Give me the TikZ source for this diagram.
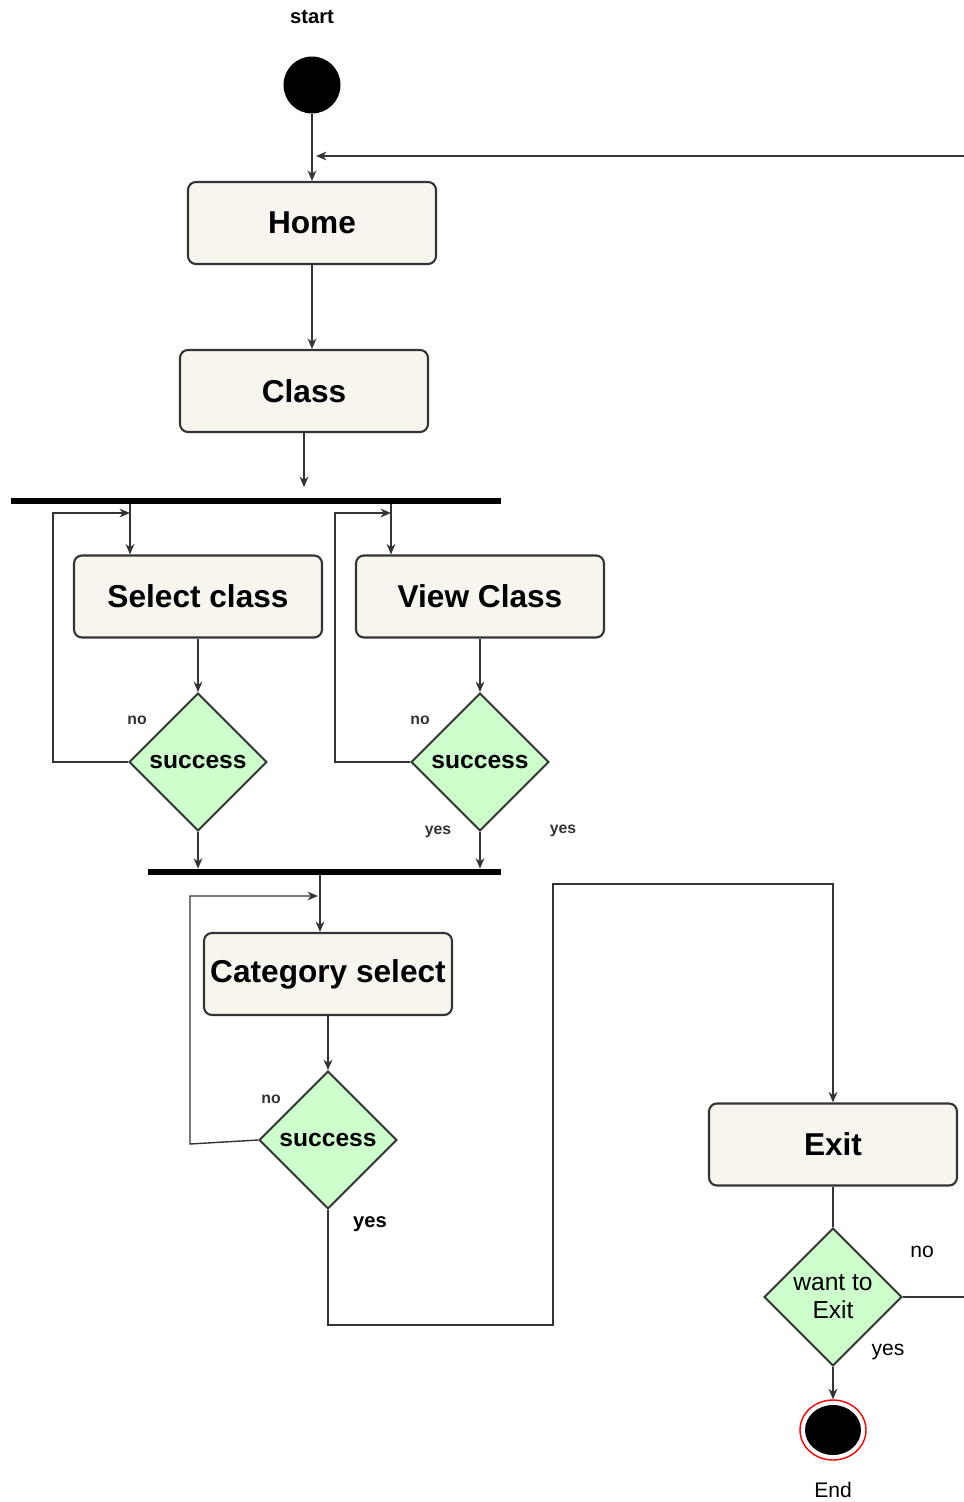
\documentclass[tikz,border=0pt]{standalone}
\usepackage{fontspec}
\setmainfont{Liberation Sans}
\usepackage{tikz}
\usetikzlibrary{arrows.meta,shapes.geometric}
\definecolor{ink}{HTML}{333333}
\definecolor{boxFill}{HTML}{F7F5EE}
\definecolor{decFill}{HTML}{CCFFCC}
\definecolor{ringRed}{HTML}{FF0000}
\tikzset{
  actBox/.style={draw=ink, line width=1.2pt, rounded corners=4.5pt, fill=boxFill,
    minimum width=4.96cm, minimum height=1.64cm, font=\fontsize{18}{20}\selectfont\bfseries},
  decision/.style={diamond, aspect=1, draw=ink, line width=1.1pt, fill=decFill, inner sep=0pt,
    minimum size=2.76cm, align=center, font=\fontsize{14}{15}\selectfont\bfseries},
  forkBar/.style={fill=black, inner sep=0pt, minimum height=0.12cm},
  flowLine/.style={draw=ink, line width=0.8pt},
  flowArrow/.style={flowLine, -{Stealth[length=6pt,width=5pt]}},
  guardSmall/.style={text=ink, font=\fontsize{9}{10}\selectfont\bfseries},
  guardLabel/.style={text=black, font=\fontsize{11.5}{12}\selectfont\bfseries},
  guardPlain/.style={text=black, font=\fontsize{12}{13}\selectfont}
}

\begin{document}
\begin{tikzpicture}[x=0.02cm, y=-0.02cm]
  \useasboundingbox (0,0) rectangle (964,1502);

  \node[guardLabel] (startText) at (312,17) {start};
  \node[circle, fill=black, inner sep=0pt, minimum size=1.14cm] (startDot) at (312,85) {};

  \node[actBox] (homeBox) at (312,223) {Home};
  \node[actBox] (classBox) at (304,391) {Class};
  \node[forkBar, minimum width=9.8cm] (bar1) at (256,501) {};
  \node[actBox] (selBox) at (198,596.5) {Select class};
  \node[actBox] (viewBox) at (480,596.5) {View Class};
  \node[decision] (dec1) at (198,762) {success};
  \node[decision] (dec2) at (480,762) {success};
  \node[forkBar, minimum width=7.06cm] (bar2) at (324.5,872) {};
  \node[actBox] (catBox) at (328,974) {Category select};
  \node[decision] (dec3) at (328,1140) {success};
  \node[actBox] (exitBox) at (833,1144.5) {Exit};
  \node[decision, font=\fontsize{14}{16}\selectfont] (dec4) at (833,1297) {want to\\Exit};
  \node[ellipse, fill=black, inner sep=0pt, minimum width=1.12cm, minimum height=1.0cm] (endDot) at (833,1430) {};
  \node[ellipse, draw=ringRed, line width=0.8pt, inner sep=0pt, minimum width=1.32cm, minimum height=1.2cm] (endRing) at (833,1430) {};
  \node[guardPlain] (endText) at (833,1490) {End};

  \coordinate (backIn) at (964,156);
  \coordinate (homeIn) at (316,156);
  \coordinate (selIn) at (130,513);
  \coordinate (viewIn) at (391,513);
  \coordinate (catIn) at (320,896);
  \coordinate (catLoop) at (318,896);
  \coordinate (catBack) at (190,1144);
  \coordinate (turnA) at (553,1325);
  \coordinate (turnB) at (553,884);
  \coordinate (noOut) at (964,1297);

  \draw[flowArrow] (startDot.south) -- (startDot.south |- homeBox.north);
  \draw[flowArrow] (backIn) -- (homeIn);
  \draw[flowArrow] (homeBox.south) -- (homeBox.south |- classBox.north);
  \draw[flowArrow, shorten >=6pt] (classBox.south) -- (classBox.south |- bar1.north);

  \draw[flowArrow] (bar1.south -| selIn) -- (selIn |- selBox.north);
  \draw[flowArrow] (bar1.south -| viewIn) -- (viewIn |- viewBox.north);
  \draw[flowArrow] (selBox.south) -- (dec1.north);
  \draw[flowArrow] (viewBox.south) -- (dec2.north);
  \draw[flowArrow] (dec1.west) -- ++(-75,0) |- (selIn);
  \draw[flowArrow] (dec2.west) -- ++(-75,0) |- (viewIn);
  \draw[flowArrow] (dec1.south) -- (dec1.south |- bar2.north);
  \draw[flowArrow] (dec2.south) -- (dec2.south |- bar2.north);

  \draw[flowArrow] (bar2.south -| catIn) -- (catIn |- catBox.north);
  \draw[flowArrow] (catBox.south) -- (dec3.north);
  \draw[flowArrow] (dec3.west) -- (catBack) |- (catLoop);
  \draw[flowArrow] (dec3.south) |- (turnA) -- (turnB) -| (exitBox.north);

  \draw[flowLine] (exitBox.south) -- (dec4.north);
  \draw[flowLine] (dec4.east) -- (noOut);
  \draw[flowArrow] (dec4.south) -- (endRing.north);

  \node[guardSmall] at (137,720) {no};
  \node[guardSmall] at (420,720) {no};
  \node[guardSmall] at (438,832) {yes};
  \node[guardSmall] at (563,831) {yes};
  \node[guardSmall] at (271,1099) {no};
  \node[guardLabel] at (370,1224) {yes};
  \node[guardPlain] at (922,1252) {no};
  \node[guardPlain] at (888,1352) {yes};
\end{tikzpicture}
\end{document}
